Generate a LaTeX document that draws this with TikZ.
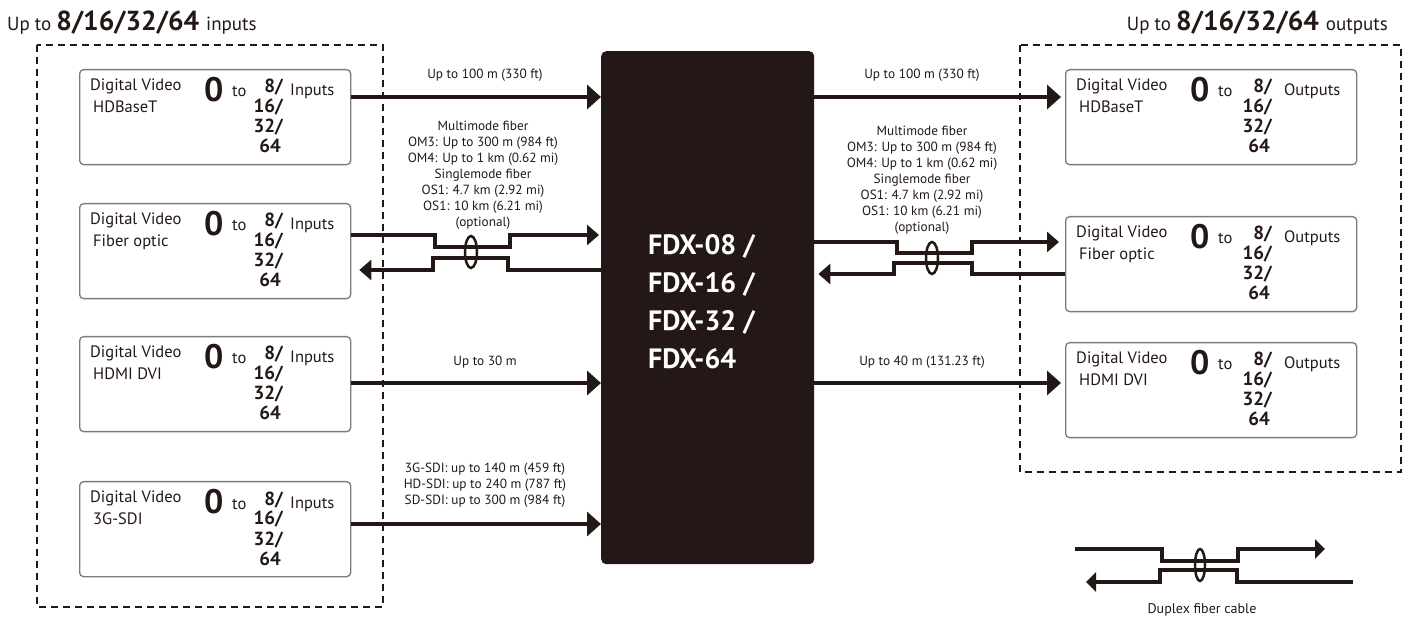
\documentclass[tikz,border=0pt]{standalone}
\usepackage{fontspec}
\setmainfont{PT Sans}
\usetikzlibrary{arrows.meta,calc}
\definecolor{ink}{HTML}{231815}
\definecolor{boxgray}{HTML}{7A7A7A}
\tikzset{
  iobox/.style={draw=boxgray, line width=1.3pt, rounded corners=4pt, minimum width=271pt, minimum height=95pt, inner sep=0pt, anchor=north west},
  oubox/.style={iobox, minimum width=291pt},
  groupbox/.style={draw=ink, line width=1.4pt, dash pattern=on 7pt off 5pt},
  txt/.style={text=ink, inner sep=0pt, font=\fontsize{16.5}{18}\selectfont},
  zero/.style={text=ink, inner sep=0pt, font=\fontsize{34}{34}\selectfont\bfseries},
  num/.style={text=ink, inner sep=0pt, font=\fontsize{19}{20}\selectfont\bfseries},
  lbl/.style={text=ink, inner sep=0pt, align=center, font=\fontsize{13.3}{16}\selectfont},
  small/.style={text=ink, inner sep=0pt, align=center, font=\fontsize{14}{15}\selectfont},
  arr/.style={draw=ink, line width=4pt, -{Triangle[length=14pt,width=24pt]}},
  fib/.style={draw=ink, line width=3.5pt, line join=miter, -{Triangle[length=12pt,width=20pt]}},
  fibplain/.style={draw=ink, line width=3.2pt, line join=miter},
  ring/.style={draw=ink, line width=2.5pt},
}
\newcommand{\iotext}[5]{%
  \node[txt, anchor=base west] (#1-a) at ([shift={(11,22)}]#1.north west) {Digital Video};
  \node[txt, anchor=base west] (#1-b) at ([shift={(14,44)}]#1.north west) {#2};
  \node[zero, anchor=base west] (#1-c) at ([shift={(125,33)}]#1.north west) {0};
  \node[txt, anchor=base west] (#1-d) at ([shift={(153,28)}]#1.north west) {to};
  \node[num, anchor=base east] (#1-e) at ([shift={(#4,24)}]#1.north west) {8/};
  \node[num, anchor=base east] (#1-f) at ([shift={(#4,44)}]#1.north west) {16/};
  \node[num, anchor=base east] (#1-g) at ([shift={(#4,64)}]#1.north west) {32/};
  \node[num, anchor=base east] (#1-h) at ([shift={(#4-2,84)}]#1.north west) {64};
  \node[txt, anchor=base west] (#1-i) at ([shift={(#5,27)}]#1.north west) {#3};
}
\begin{document}
\begin{tikzpicture}[x=1pt, y=-1pt]
\useasboundingbox (0,0) rectangle (1409,617);

% titles
\node[txt, anchor=base west] (titleL) at (7,31) {\fontsize{19}{20}\selectfont Up to \fontsize{27.5}{28}\selectfont\bfseries 8/16/32/64 \fontsize{19}{20}\selectfont\mdseries inputs};
\node[txt, anchor=base east] (titleR) at (1388,31) {\fontsize{19}{20}\selectfont Up to \fontsize{27.5}{28}\selectfont\bfseries 8/16/32/64 \fontsize{19}{20}\selectfont\mdseries outputs};

% group boxes
\draw[groupbox] (37,45) rectangle (383,607);
\draw[groupbox] (1020,45) rectangle (1401,472);

% input boxes
\node[iobox] (in1) at (79,69) {};
\node[iobox] (in2) at (79,203) {};
\node[iobox] (in3) at (79,336) {};
\node[iobox] (in4) at (79,481) {};
\iotext{in1}{HDBaseT}{Inputs}{204}{211}
\iotext{in2}{Fiber optic}{Inputs}{204}{211}
\iotext{in3}{HDMI DVI}{Inputs}{204}{211}
\iotext{in4}{3G-SDI}{Inputs}{204}{211}

% output boxes
\node[oubox] (out1) at (1065,69) {};
\node[oubox] (out2) at (1065,216) {};
\node[oubox] (out3) at (1065,342) {};
\iotext{out1}{HDBaseT}{Outputs}{207}{219}
\iotext{out2}{Fiber optic}{Outputs}{207}{219}
\iotext{out3}{HDMI DVI}{Outputs}{207}{219}

% central unit
\node[fill=ink, rounded corners=5pt, minimum width=213pt, minimum height=513pt, inner sep=0pt, anchor=north west] (fdx) at (601,51) {};
\node[text=white, inner sep=0pt, anchor=west, align=left, font=\fontsize{28}{38}\selectfont\bfseries] (fdxt) at (648,302) {FDX-08 /\\FDX-16 /\\FDX-32 /\\FDX-64};

% row coordinates
\coordinate (r1) at (0,97);
\coordinate (f1) at (0,235);
\coordinate (f2) at (0,270);
\coordinate (g1) at (0,242);
\coordinate (g2) at (0,274);
\coordinate (r3) at (0,383);
\coordinate (r4) at (0,524);

% row 1
\draw[arr] (in1.east |- r1) -- (fdx.west |- r1);
\draw[arr] (fdx.east |- r1) -- ([xshift=-4pt]out1.west |- r1);
\node[lbl] (l1) at (485,75) {Up to 100 m (330 ft)};
\node[lbl] (l1r) at (922,75) {Up to 100 m (330 ft)};

% row 2 fiber left
\draw[fib] (in2.east |- f1) -- (435,235) -- (435,247) -- (510,247) -- (510,235) -- ([xshift=-2pt]fdx.west |- f1);
\draw[fib] (fdx.west |- f2) -- (508,270) -- (508,258) -- (433,258) -- (433,270) -- ([xshift=8pt]in2.east |- f2);
\draw[ring] (471,252) ellipse [x radius=6, y radius=16];
\node[lbl] (l2) at (483,175) {Multimode fiber\\OM3: Up to 300 m (984 ft)\\OM4: Up to 1 km (0.62 mi)\\Singlemode fiber\\OS1: 4.7 km (2.92 mi)\\OS1: 10 km (6.21 mi)\\(optional)};

% row 2 fiber right
\draw[fib] (fdx.east |- g1) -- (897,242) -- (897,253) -- (972,253) -- (972,242) -- ([xshift=-6pt]out2.west |- g1);
\draw[fib] (out2.west |- g2) -- (972,274) -- (972,263) -- (894,263) -- (894,274) -- ([xshift=4pt]fdx.east |- g2);
\draw[ring] (932,258) ellipse [x radius=6, y radius=16];
\node[lbl] (l2r) at (922,180) {Multimode fiber\\OM3: Up to 300 m (984 ft)\\OM4: Up to 1 km (0.62 mi)\\Singlemode fiber\\OS1: 4.7 km (2.92 mi)\\OS1: 10 km (6.21 mi)\\(optional)};

% row 3
\draw[arr] (in3.east |- r3) -- (fdx.west |- r3);
\draw[arr] (fdx.east |- r3) -- ([xshift=-4pt]out3.west |- r3);
\node[lbl] (l3) at (485,362) {Up to 30 m};
\node[lbl] (l3r) at (922,362) {Up to 40 m (131.23 ft)};

% row 4
\draw[arr] (in4.east |- r4) -- (fdx.west |- r4);
\node[lbl] (l4) at (485,485) {3G-SDI: up to 140 m (459 ft)\\HD-SDI: up to 240 m (787 ft)\\SD-SDI: up to 300 m (984 ft)};

% legend
\coordinate (d1) at (1075,549);
\coordinate (d2) at (1325,549);
\coordinate (d3) at (1353,582);
\coordinate (d4) at (1086,582);
\draw[fibplain, -{Triangle[length=10pt,width=19pt]}] (d1) -- (1162,549) -- (1162,561) -- (1238,561) -- (1238,549) -- (d2);
\draw[fibplain, -{Triangle[length=10pt,width=19pt]}] (d3) -- (1237,582) -- (1237,570) -- (1160,570) -- (1160,582) -- (d4);
\draw[ring] (1200,565) ellipse [x radius=5, y radius=16];
\node[small] (dl) at (1202,610) {Duplex fiber cable};
\end{tikzpicture}
\end{document}
